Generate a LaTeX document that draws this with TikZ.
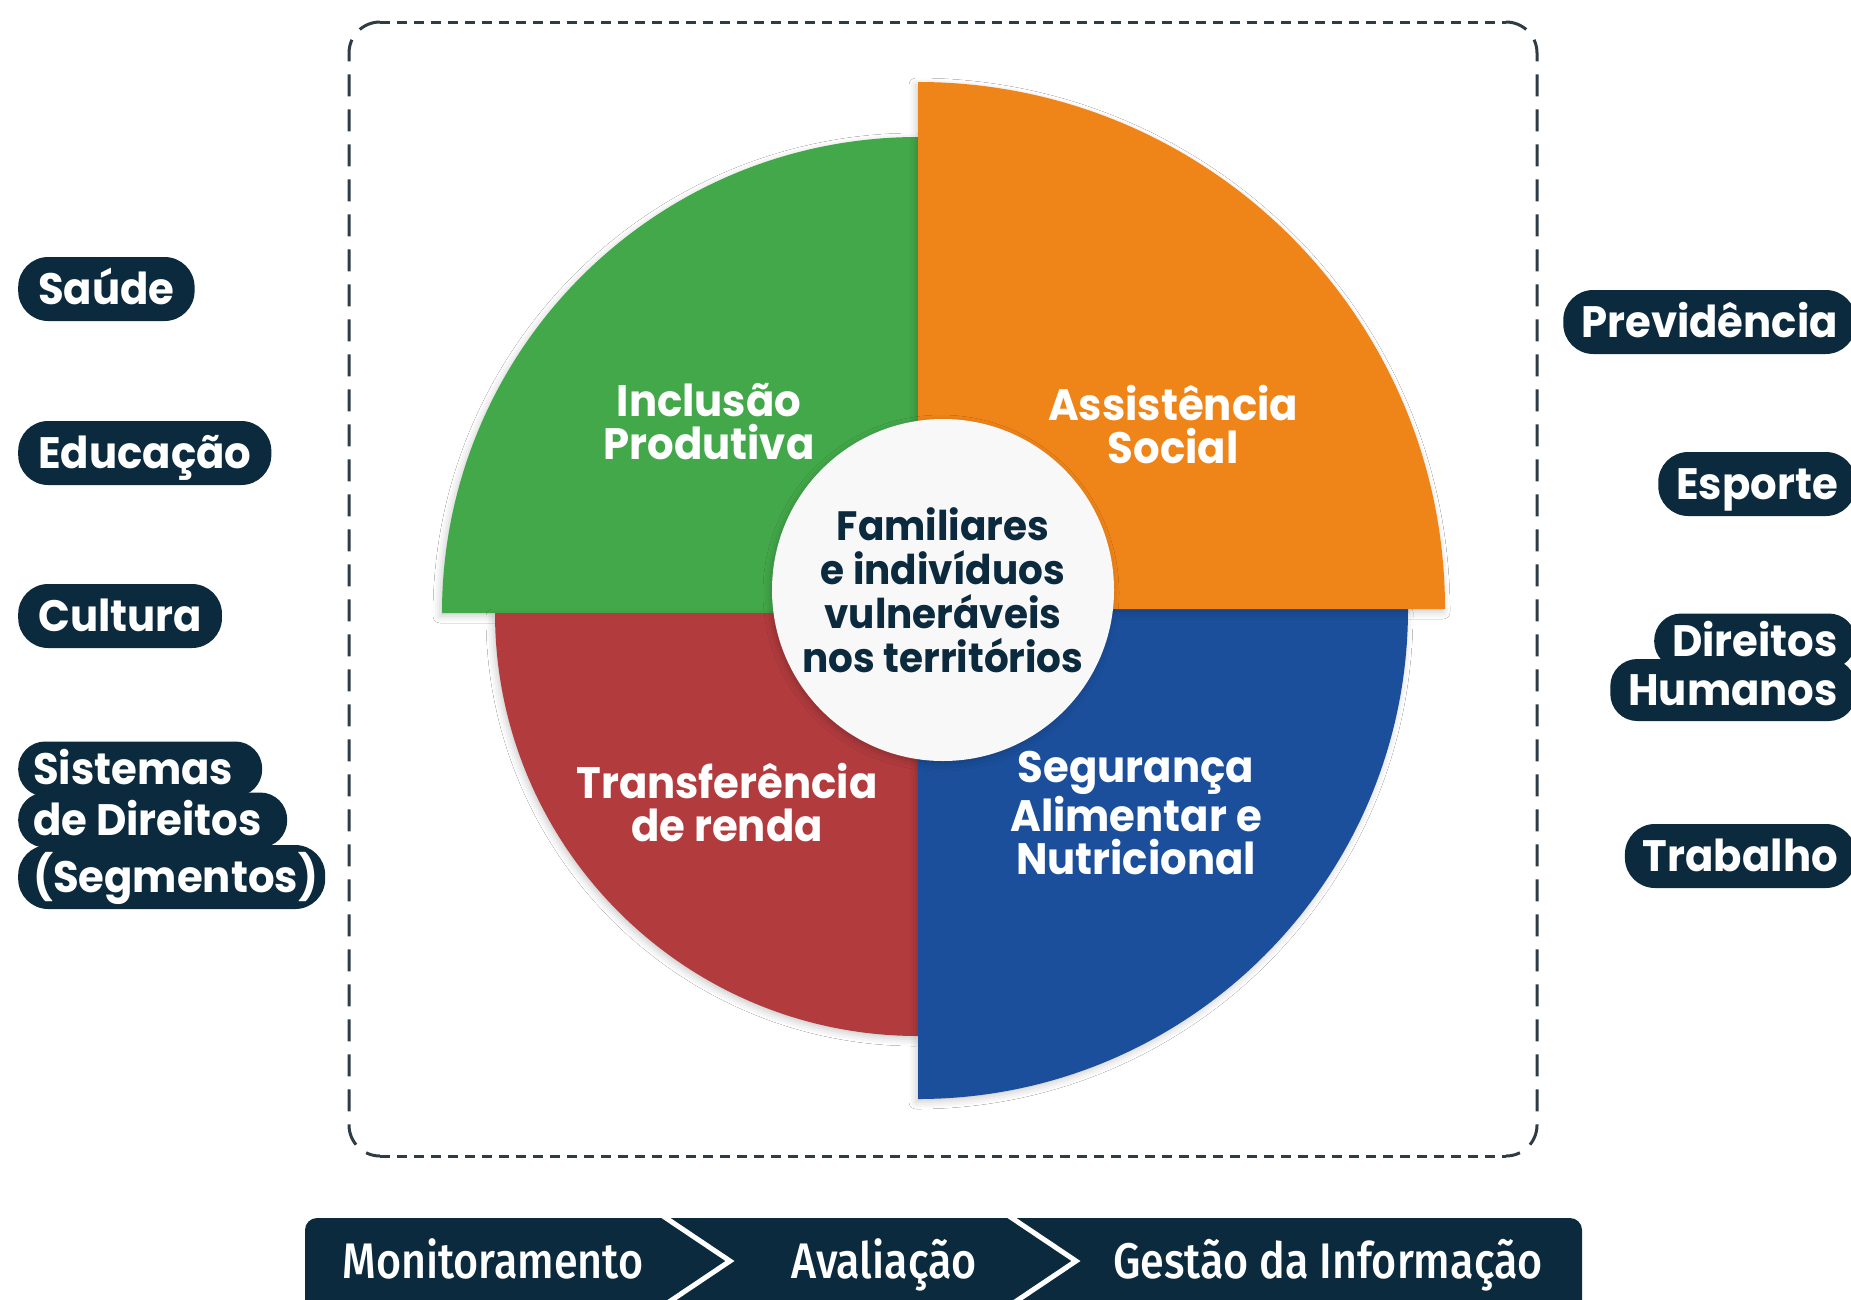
\documentclass[tikz,border=0pt]{standalone}
\usepackage{fontspec}
\newfontfamily\pop{Poppins}[FakeStretch=0.95]
\newfontfamily\barfont{Fira Sans}[UprightFont=* Medium, FakeStretch=0.86]
\usetikzlibrary{shadows.blur}
\definecolor{navy}{HTML}{0C2A3D}
\definecolor{qgreen}{HTML}{43A84A}
\definecolor{qorange}{HTML}{EF8418}
\definecolor{qred}{HTML}{B23B3E}
\definecolor{qblue}{HTML}{1B4F9C}
\definecolor{coregray}{HTML}{F8F8F8}
\definecolor{dashcol}{HTML}{2E3C46}
\tikzset{
  pill/.style={fill=navy, text=white, rounded corners=30pt, font=\pop\bfseries\fontsize{44}{44}\selectfont,
    inner xsep=20pt, inner ysep=0pt, minimum height=64pt, text height=34pt, text depth=3pt},
  spill/.style={pill, rounded corners=27pt, minimum height=55pt, inner xsep=16pt},
  seclabel/.style={text=white, align=center, font=\pop\bfseries\fontsize{44}{43}\selectfont},
  corelabel/.style={text=navy, align=center, font=\pop\bfseries\fontsize{41}{44}\selectfont},
  barlabel/.style={text=white, font=\barfont\fontsize{50}{50}\selectfont, text height=35pt, text depth=0pt, inner sep=0pt},
  sshadow/.style={blur shadow={shadow xshift=-2pt, shadow yshift=-3pt, shadow blur radius=7pt, shadow opacity=20}},
  dashline/.style={draw=dashcol, line width=3pt},
  chev/.style={draw=white, line width=5pt},
}
\begin{document}
\begin{tikzpicture}[x=1pt,y=1pt]
\useasboundingbox (0,0) rectangle (1851,-1299);
\clip (0,0) rectangle (1851,-1299);
\fill[white] (0,0) rectangle (1851,-1299);

% dashed frame
\draw[dashline, dash pattern=on 10pt off 7pt] (380,-22) -- (1506,-22);
\draw[dashline, dash pattern=on 10pt off 7pt] (380,-1156) -- (1506,-1156);
\draw[dashline, dash pattern=on 22pt off 13pt] (380,-22) arc[start angle=90,end angle=180,radius=31pt] -- (349,-1125) arc[start angle=180,end angle=270,radius=31pt];
\draw[dashline, dash pattern=on 22pt off 13pt] (1506,-22) arc[start angle=90,end angle=0,radius=31pt] -- (1537,-1125) arc[start angle=0,end angle=-90,radius=31pt];

% sectors
\fill[qgreen, sshadow] (918,-613) -- (442,-613) arc[start angle=180,end angle=90,radius=476pt] -- cycle;
\fill[qred, sshadow] (918,-613) -- (918,-1036) arc[start angle=270,end angle=180,radius=423pt] -- cycle;
\fill[qblue, sshadow] (918,-609) -- (1408,-609) arc[start angle=0,end angle=-90,radius=490pt] -- cycle;
\fill[qorange, sshadow] (918,-609) -- (918,-82) arc[start angle=90,end angle=0,radius=527pt] -- cycle;

% core
\node[circle, fill=coregray, minimum size=342pt, inner sep=0pt, sshadow] (core) at (943,-590) {};
\node[corelabel] (corelbl) at (core.center) {Familiares\\e indivíduos\\vulneráveis\\nos territórios};

\node[seclabel] (incl) at (709,-422) {Inclusão\\Produtiva};
\node[seclabel] (assi) at (1173,-425) {Assistência\\Social};
\node[seclabel] (trans) at (727,-803) {Transferência\\de renda};
\node[seclabel] (segu) at (1136,-813) {Segurança\\Alimentar e\\Nutricional};

% left pills
\node[pill, anchor=west] (saude) at (18,-289) {Saúde};
\node[pill, anchor=west] (educ) at (18,-453) {Educação};
\node[pill, anchor=west] (cult) at (18,-616) {Cultura};
\node[spill, anchor=west, inner xsep=15pt] (sist) at (18,-769) {\makebox[214pt][l]{Sistemas}};
\node[spill, anchor=west, inner xsep=15pt] (sdir) at (18,-820) {\makebox[239pt][l]{de Direitos}};
\node[pill, anchor=west, inner xsep=15pt] (sseg) at (18,-877) {\makebox[277pt][l]{(Segmentos)}};

% right pills
\node[pill, anchor=east, inner xsep=18pt] (prev) at (1856,-322) {Previdência};
\node[pill, anchor=east, inner xsep=18pt] (espo) at (1856,-484) {Esporte};
\node[spill, anchor=east, inner xsep=18pt] (dire) at (1856,-641) {Direitos};
\node[spill, anchor=east, inner xsep=18pt, minimum height=62pt] (huma) at (1856,-690) {Humanos};
\node[pill, anchor=east, inner xsep=18pt] (trab) at (1856,-856) {Trabalho};

% bottom bar
\fill[navy, rounded corners=12pt] (305,-1218) rectangle (1582,-1340);
\draw[chev] (657,-1212) -- (730,-1261) -- (657,-1310);
\draw[chev] (1003,-1212) -- (1076,-1261) -- (1003,-1310);
\node[barlabel] (moni) at (493,-1261) {Monitoramento};
\node[barlabel] (aval) at (884,-1261) {Avaliação};
\node[barlabel] (gest) at (1328,-1261) {Gestão da Informação};
\end{tikzpicture}
\end{document}
